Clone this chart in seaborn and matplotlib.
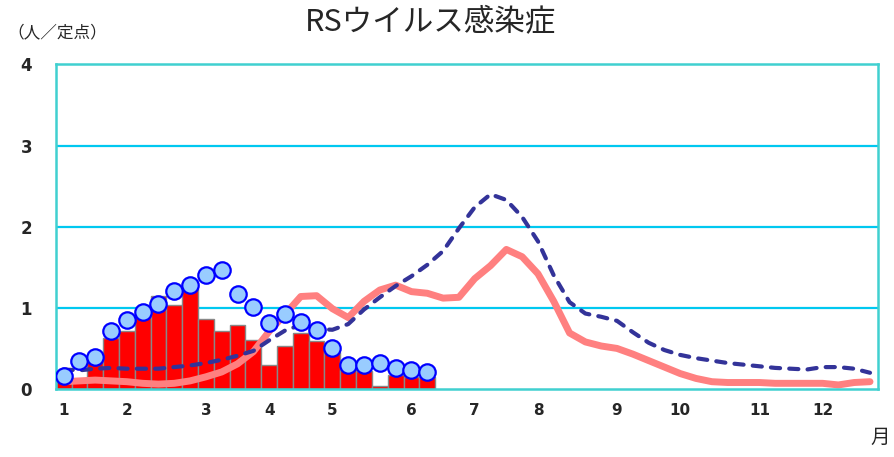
import matplotlib
matplotlib.use("Agg")
import matplotlib.pyplot as plt
import seaborn as sns
import pandas as pd

# weekly values (per sentinel), week 1..52
this_year = [0.10, 0.12, 0.35, 0.63, 0.72, 0.91, 1.14, 1.04, 1.24, 0.86, 0.72, 0.79,
             0.60, 0.30, 0.53, 0.69, 0.59, 0.45, 0.24, 0.22, 0.04, 0.17, 0.15, 0.15]
last_year = [0.16, 0.34, 0.40, 0.72, 0.85, 0.95, 1.05, 1.21, 1.28, 1.41, 1.47, 1.17,
             1.01, 0.81, 0.93, 0.83, 0.73, 0.50, 0.29, 0.30, 0.32, 0.26, 0.24, 0.21]
avg_5yr = [0.24, 0.23, 0.25, 0.26, 0.25, 0.25, 0.25, 0.27, 0.29, 0.32, 0.36, 0.41,
           0.47, 0.60, 0.72, 0.79, 0.74, 0.73, 0.80, 0.98, 1.13, 1.27, 1.39, 1.53,
           1.70, 1.98, 2.24, 2.40, 2.33, 2.12, 1.82, 1.40, 1.07, 0.93, 0.89, 0.84,
           0.70, 0.57, 0.48, 0.42, 0.38, 0.35, 0.32, 0.30, 0.28, 0.26, 0.25, 0.24,
           0.27, 0.27, 0.25, 0.20]
prev_season = [0.09, 0.10, 0.11, 0.10, 0.09, 0.07, 0.06, 0.07, 0.10, 0.15, 0.21, 0.31,
               0.46, 0.71, 0.92, 1.14, 1.15, 0.99, 0.88, 1.08, 1.22, 1.28, 1.20, 1.18,
               1.12, 1.13, 1.36, 1.52, 1.72, 1.63, 1.42, 1.08, 0.69, 0.58, 0.53, 0.50,
               0.43, 0.35, 0.27, 0.19, 0.13, 0.09, 0.08, 0.08, 0.08, 0.07, 0.07, 0.07,
               0.07, 0.05, 0.08, 0.09]
month_weeks = [1, 5, 10, 14, 18, 23, 27, 31, 36, 40, 45, 49]
month_labels = [str(m) for m in range(1, 13)]

df_now = pd.DataFrame({"week": range(1, len(this_year) + 1), "now": this_year, "last": last_year})
df_full = pd.DataFrame({"week": range(1, 53), "avg": avg_5yr, "prev": prev_season})

sns.set_style("white")
plt.rcParams['font.family'] = ['Noto Sans CJK JP', 'DejaVu Sans']

fig = plt.figure(figsize=(8.94, 4.57), dpi=100)
ax = fig.add_axes([0.0623, 0.1488, 0.9197, 0.7102])

for y in [1, 2, 3]:
    ax.axhline(y, color="#00c8f0", lw=1.6, zorder=0)

sns.barplot(data=df_now, x="week", y="now", native_scale=True, width=1.0,
            color="#ff0000", saturation=1, edgecolor="#888888", linewidth=1.0,
            ax=ax, zorder=1)
sns.lineplot(data=df_full, x="week", y="prev", color="#ff8080", lw=5,
             solid_joinstyle="round", solid_capstyle="round", ax=ax, zorder=2)
sns.lineplot(data=df_full, x="week", y="avg", color="#333399", lw=3,
             dashes=False, ax=ax, zorder=3)
ax.lines[-1].set_dashes((2.2, 2.2))
ax.lines[-1].set_dash_capstyle("round")
sns.scatterplot(data=df_now, x="week", y="last", s=140, color="#99ccff",
                edgecolor="#0000ff", linewidth=1.6, ax=ax, zorder=4)

ax.set_xlim(0.5, 52.5)
ax.set_ylim(0, 4)
ax.set_yticks([0, 1, 2, 3, 4])
ax.set_yticklabels(["0", "1", "2", "3", "4"], fontsize=12, fontweight="bold",
                   family=["DejaVu Sans"])
ax.set_xticks(month_weeks)
ax.set_xticklabels(month_labels, fontsize=11, fontweight="bold", family=["DejaVu Sans"])
ax.tick_params(axis="y", length=0, pad=17)
ax.tick_params(axis="x", length=0, pad=10)
ax.set_xlabel("")
ax.set_ylabel("")
for sp in ax.spines.values():
    sp.set_color("#40d0d0")
    sp.set_linewidth(1.8)
    sp.set_visible(True)
ax.grid(False)

fig.text(0.482, 0.950, "RSウイルス感染症", ha="center", va="center", fontsize=22)
fig.text(0.008, 0.928, "（人／定点）", ha="left", va="center", fontsize=12)
fig.text(0.985, 0.043, "月", ha="center", va="center", fontsize=14)

fig.savefig("out.png", dpi=100)
